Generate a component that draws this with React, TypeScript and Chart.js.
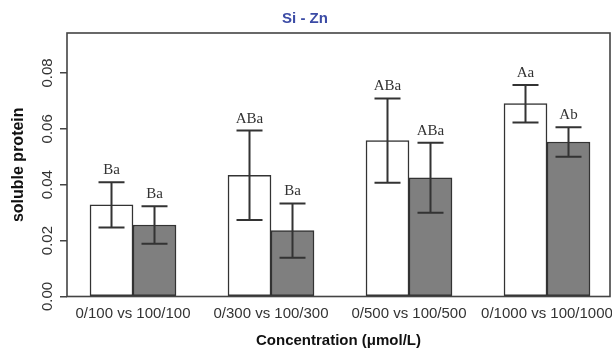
import React, { useEffect, useRef } from "react";
import { Chart, registerables } from "chart.js";

Chart.register(...registerables);

const categories = ["0/100 vs 100/100", "0/300 vs 100/300", "0/500 vs 100/500", "0/1000 vs 100/1000"];
const controlMeans = [0.0328, 0.0434, 0.0558, 0.069];
const controlErrors = [0.0081, 0.016, 0.0151, 0.0067];
const treatedMeans = [0.0256, 0.0236, 0.0425, 0.0553];
const treatedErrors = [0.0067, 0.0097, 0.0125, 0.0053];
const controlLetters = ["Ba", "ABa", "ABa", "Aa"];
const treatedLetters = ["Ba", "Ba", "ABa", "Ab"];
const yTicks = [0, 0.02, 0.04, 0.06, 0.08];

const SANS = '"Liberation Sans", Arial, sans-serif';
const SERIF = '"Liberation Serif", "Times New Roman", serif';

const errorBarPlugin = {
  id: "errorBars",
  afterDatasetsDraw(chart: any) {
    const ctx = chart.ctx;
    const ys = chart.scales.y;
    chart.data.datasets.forEach((ds: any, di: number) => {
      const meta = chart.getDatasetMeta(di);
      meta.data.forEach((bar: any, i: number) => {
        const m = ds.data[i].y;
        const e = ds.errors[i];
        const x = bar.x;
        const yTop = ys.getPixelForValue(m + e);
        const yBot = ys.getPixelForValue(m - e);
        ctx.save();
        ctx.strokeStyle = "#333";
        ctx.lineWidth = 2;
        ctx.beginPath();
        ctx.moveTo(x, yTop);
        ctx.lineTo(x, yBot);
        ctx.moveTo(x - 13, yTop);
        ctx.lineTo(x + 13, yTop);
        ctx.moveTo(x - 13, yBot);
        ctx.lineTo(x + 13, yBot);
        ctx.stroke();
        ctx.font = "15px " + SERIF;
        ctx.fillStyle = "#333";
        ctx.textAlign = "center";
        ctx.textBaseline = "alphabetic";
        ctx.fillText(ds.letters[i], x, yTop - 8);
        ctx.restore();
      });
    });
  },
};

const boxPlugin = {
  id: "frameBox",
  afterDraw(chart: any) {
    const { ctx, chartArea } = chart;
    const ys = chart.scales.y;
    ctx.save();
    ctx.strokeStyle = "#444";
    ctx.lineWidth = 1.6;
    ctx.strokeRect(chartArea.left, chartArea.top, chartArea.right - chartArea.left, chartArea.bottom - chartArea.top);
    ctx.font = "15px " + SANS;
    ctx.fillStyle = "#333";
    ctx.textAlign = "center";
    ctx.textBaseline = "middle";
    ys.ticks.forEach((t: any) => {
      const py = ys.getPixelForValue(t.value);
      ctx.save();
      ctx.translate(chartArea.left - 19, py);
      ctx.rotate(-Math.PI / 2);
      ctx.fillText(t.value.toFixed(2), 0, 0);
      ctx.restore();
    });
    ctx.restore();
  },
};

export default function App() {
  const ref = useRef<HTMLCanvasElement>(null);
  useEffect(() => {
    if (!ref.current) return;
    const chart = new Chart(ref.current, {
      type: "bar",
      data: {
        datasets: [
          {
            label: "control",
            data: controlMeans.map((v, i) => ({ x: i + 1, y: v })),
            errors: controlErrors,
            letters: controlLetters,
            backgroundColor: "#ffffff",
            borderColor: "#333",
            borderWidth: 1.5,
            borderSkipped: false,
            barThickness: 43,
          } as any,
          {
            label: "treated",
            data: treatedMeans.map((v, i) => ({ x: i + 1, y: v })),
            errors: treatedErrors,
            letters: treatedLetters,
            backgroundColor: "#7f7f7f",
            borderColor: "#333",
            borderWidth: 1.5,
            borderSkipped: false,
            barThickness: 43,
          } as any,
        ],
      },
      options: {
        responsive: false,
        animation: false,
        layout: { padding: { left: 0, right: 2, top: 0, bottom: 0 } },
        plugins: {
          legend: { display: false },
          tooltip: { enabled: false },
          title: {
            display: true,
            text: "Si - Zn",
            color: "#3b4ba5",
            font: { family: SANS, size: 15, weight: "bold", lineHeight: 1.2 },
            padding: { top: 10, bottom: 5 },
          },
        },
        scales: {
          x: {
            type: "linear",
            offset: false,
            min: 0.5217,
            max: 4.4565,
            afterBuildTicks: (scale: any) => {
              scale.ticks = categories.map((_, i) => ({ value: i + 1 }));
            },
            afterFit: (scale: any) => {
              scale.height = 51.5;
              scale.paddingLeft = 0;
              scale.paddingRight = 0;
            },
            grid: { display: false, drawTicks: false, offset: false },
            border: { display: false },
            ticks: {
              autoSkip: false,
              maxRotation: 0,
              minRotation: 0,
              padding: 8,
              color: "#333",
              font: { family: SANS, size: 15 },
              callback: (_v: any, i: number) => categories[i],
            },
            title: {
              display: true,
              text: "Concentration (μmol/L)",
              color: "#111",
              font: { family: SANS, size: 15, weight: "bold", lineHeight: 1 },
              padding: { top: 0, bottom: 0 },
            },
          },
          y: {
            min: 0,
            max: 0.0943,
            afterBuildTicks: (scale: any) => {
              scale.ticks = yTicks.map((v) => ({ value: v }));
            },
            afterFit: (scale: any) => {
              scale.width = 67;
              scale.paddingTop = 0;
              scale.paddingBottom = 0;
            },
            grid: { drawOnChartArea: false, drawTicks: true, tickLength: 7, color: "#444", lineWidth: 1.5 },
            border: { display: false },
            ticks: { display: false },
            title: {
              display: true,
              text: "soluble protein",
              color: "#111",
              font: { family: SANS, size: 16, weight: "bold", lineHeight: 1.2 },
              padding: { top: 9, bottom: 0 },
            },
          },
        },
      } as any,
      plugins: [errorBarPlugin, boxPlugin],
    });
    return () => chart.destroy();
  }, []);
  return (
    <div style={{ position: "absolute", left: 0, top: 0, width: 612, height: 348 }}>
      <canvas ref={ref} width={612} height={348} />
    </div>
  );
}
